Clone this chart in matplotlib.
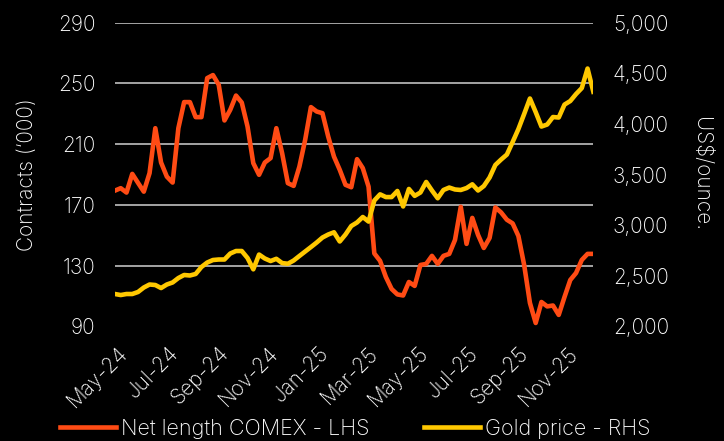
#!/usr/bin/env python
# coding: utf-8

  ## Net length COMEX (LHS, '000 contracts) vs gold price (RHS, US$/oz), weekly

import numpy as np
import matplotlib
matplotlib.use('Agg')
import matplotlib.pyplot as plt

  ## 1) Data (read off the reference chart)
net_length = [179.4, 181.0, 178.1, 190.4, 184.5, 178.7, 190.9, 220.5, 197.9, 188.6,
              184.7, 220.5, 237.7, 237.7, 227.8, 227.8, 253.5, 255.5, 249.1, 225.6,
              232.6, 242.0, 237.4, 221.6, 197.5, 189.8, 197.9, 200.8, 220.5, 204.1,
              184.3, 182.5, 195.2, 212.8, 234.4, 231.5, 230.4, 215.0, 201.8, 193.1,
              183.2, 181.6, 200.1, 194.2, 182.0, 138.0, 133.1, 122.5, 114.6, 111.0,
              110.3, 119.2, 116.6, 130.4, 131.1, 136.4, 131.1, 136.4, 137.7, 146.9,
              168.7, 144.3, 161.4, 150.2, 141.6, 148.2, 168.3, 165.0, 160.2, 157.8,
              149.5, 130.4, 105.4, 92.2, 106.0, 103.1, 103.7, 97.5, 109.3, 120.5,
              125.1, 133.7, 137.7, 137.7]

gold_price = [2319, 2309, 2319, 2319, 2339, 2383, 2413, 2408, 2378, 2413,
              2433, 2477, 2507, 2502, 2517, 2586, 2630, 2655, 2660, 2660,
              2719, 2744, 2744, 2675, 2563, 2709, 2670, 2645, 2667, 2625,
              2618, 2650, 2695, 2739, 2783, 2828, 2877, 2907, 2929, 2838,
              2907, 2991, 3026, 3080, 3035, 3243, 3304, 3277, 3277, 3337,
              3184, 3357, 3289, 3322, 3426, 3342, 3265, 3347, 3371, 3352,
              3347, 3366, 3403, 3342, 3386, 3470, 3594, 3648, 3697, 3821,
              3949, 4098, 4251, 4117, 3974, 3994, 4068, 4063, 4191, 4226,
              4295, 4354, 4547, 4318]

tick_labels = ['May-24', 'Jul-24', 'Sep-24', 'Nov-24', 'Jan-25',
               'Mar-25', 'May-25', 'Jul-25', 'Sep-25', 'Nov-25']

lhs_ticks = [90, 130, 170, 210, 250, 290]
rhs_ticks = [2000, 2500, 3000, 3500, 4000, 4500, 5000]

  ## 2) Plot
plt.rcParams['font.family'] = ['Inter', 'DejaVu Sans']
plt.rcParams['font.weight'] = 'light'

ORANGE = '#FF4B14'
YELLOW = '#FFC800'
GRID = '#C0C0C0'
FS = 15

fig = plt.figure(figsize=(7.24, 4.41), dpi=100, facecolor='black')
ax = fig.add_axes([0.1588, 0.2601, 0.6607, 0.6884])
ax.set_facecolor('black')
ax2 = ax.twinx()
ax2.patch.set_visible(False)

x = np.arange(len(net_length))

line1, = ax.plot(x, net_length, color=ORANGE, linewidth=3.3, solid_joinstyle='round',
                 label='Net length COMEX - LHS')
line2, = ax2.plot(x, gold_price, color=YELLOW, linewidth=3.3, solid_joinstyle='round',
                  label='Gold price - RHS')

ax.set_xlim(0, len(net_length) - 1)
ax.set_ylim(90, 290)
ax2.set_ylim(2000, 5000)

ax.set_yticks(lhs_ticks)
ax2.set_yticks(rhs_ticks)
ax2.set_yticklabels(['{:,}'.format(v) for v in rhs_ticks])

  # gridlines (none at the bottom value)
ax.yaxis.grid(True, color=GRID, linewidth=1.2)
ax.get_ygridlines()[0].set_visible(False)
ax.set_axisbelow(True)

  # x ticks every two months
tick_pos = [0.5 + 8.68 * k for k in range(len(tick_labels))]
ax.set_xticks(tick_pos)
ax.set_xticklabels(tick_labels, rotation=45, ha='right', va='top', rotation_mode='anchor')

for a in (ax, ax2):
    for s in a.spines.values():
        s.set_visible(False)
ax.tick_params(axis='x', length=0, pad=12, colors='white', labelsize=FS)
ax.tick_params(axis='y', length=0, pad=14, colors='white', labelsize=FS)
ax2.tick_params(axis='y', length=0, pad=14, colors='white', labelsize=FS)

  # axis titles
yc = 0.2601 + 0.6884 / 2
fig.text(27 / 724, yc, 'Contracts (\u2018000)', rotation=90, color='white',
         fontsize=FS, ha='center', va='center')
fig.text(701 / 724, yc, 'US$/ounce.', rotation=270, color='white',
         fontsize=FS, ha='center', va='center')

  # legend under the chart
fig.legend(handles=[line1, line2], loc='center left', bbox_to_anchor=(60 / 724, 12 / 441),
           ncol=2, frameon=False, fontsize=15.5, labelcolor='white',
           handlelength=2.6, handletextpad=0.25, columnspacing=2.5,
           borderpad=0, borderaxespad=0)

fig.savefig('out.png', dpi=100, facecolor='black')
